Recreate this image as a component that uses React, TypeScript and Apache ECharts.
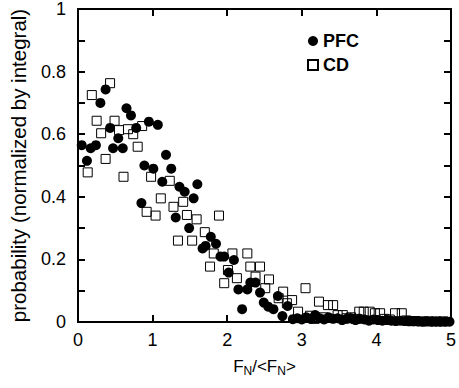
import React, { useEffect, useRef } from "react";
import * as echarts from "echarts";

const pfcX = [0.05, 0.12, 0.17, 0.24, 0.3, 0.37, 0.43, 0.47, 0.54, 0.6, 0.65, 0.71, 0.78, 0.85, 0.89, 0.95, 1.01, 1.07, 1.13, 1.18, 1.25, 1.31, 1.36, 1.43, 1.49, 1.55, 1.6, 1.67, 1.71, 1.78, 1.85, 1.91, 1.96, 2.02, 2.09, 2.15, 2.2, 2.27, 2.31, 2.38, 2.44, 2.49, 2.55, 2.62, 2.68, 2.74, 2.81, 2.88, 2.94, 3.0, 3.06, 3.12, 3.18, 3.24, 3.3, 3.36, 3.42, 3.48, 3.54, 3.6, 3.66, 3.72, 3.78, 3.84, 3.9, 3.96, 4.02, 4.08, 4.14, 4.2, 4.26, 4.32, 4.38, 4.44, 4.5, 4.56, 4.62, 4.68, 4.74, 4.8, 4.86, 4.92, 4.98];
const pfcY = [0.565, 0.515, 0.555, 0.565, 0.7, 0.743, 0.62, 0.555, 0.587, 0.555, 0.683, 0.66, 0.62, 0.38, 0.5, 0.64, 0.49, 0.63, 0.448, 0.534, 0.49, 0.334, 0.432, 0.416, 0.3, 0.395, 0.44, 0.235, 0.243, 0.272, 0.25, 0.209, 0.209, 0.158, 0.198, 0.104, 0.041, 0.104, 0.126, 0.126, 0.094, 0.062, 0.049, 0.041, 0.083, 0.019, 0.051, 0.009, 0.012, 0.008, 0.015, 0.01, 0.022, 0.012, 0.008, 0.015, 0.01, 0.012, 0.006, 0.01, 0.012, 0.006, 0.01, 0.008, 0.004, 0.008, 0.006, 0.004, 0.006, 0.004, 0.003, 0.004, 0.003, 0.002, 0.002, 0.002, 0.001, 0.002, 0.001, 0.001, 0.001, 0.001, 0.001];

const cdX = [0.13, 0.185, 0.25, 0.31, 0.37, 0.43, 0.49, 0.55, 0.61, 0.67, 0.74, 0.8, 0.86, 0.92, 0.98, 1.04, 1.11, 1.23, 1.28, 1.34, 1.41, 1.46, 1.53, 1.59, 1.7, 1.77, 1.82, 1.89, 1.96, 2.01, 2.07, 2.13, 2.27, 2.31, 2.38, 2.44, 2.51, 2.56, 2.69, 2.75, 2.8, 2.87, 2.95, 3.05, 3.11, 3.17, 3.23, 3.29, 3.35, 3.42, 3.48, 3.55, 3.6, 3.66, 3.72, 3.77, 3.83, 3.91, 3.98, 4.05, 4.11, 4.18, 4.25, 4.34, 4.4, 4.46, 4.52, 4.6, 4.7, 4.8, 4.9];
const cdY = [0.478, 0.725, 0.643, 0.603, 0.521, 0.763, 0.643, 0.613, 0.464, 0.616, 0.6, 0.56, 0.626, 0.352, 0.464, 0.34, 0.395, 0.451, 0.368, 0.26, 0.384, 0.342, 0.26, 0.328, 0.287, 0.177, 0.219, 0.34, 0.124, 0.166, 0.219, 0.14, 0.219, 0.177, 0.145, 0.177, 0.108, 0.136, 0.076, 0.097, 0.06, 0.07, 0.033, 0.108, 0.02, 0.01, 0.065, 0.015, 0.054, 0.054, 0.022, 0.022, 0.012, 0.015, 0.01, 0.033, 0.033, 0.033, 0.028, 0.028, 0.01, 0.008, 0.028, 0.028, 0.005, 0.003, 0.003, 0.002, 0.002, 0.002, 0.002];

const xTicks = [0, 1, 2, 3, 4, 5];
const yTicks = [0, 0.2, 0.4, 0.6, 0.8, 1];

const FONT = "'Liberation Sans', Arial, Helvetica, sans-serif";

const mkLine = () => ({ show: true, onZero: false, lineStyle: { color: "#000", width: 2 } });
const mkTick = () => ({ show: true, inside: true, length: 7, lineStyle: { color: "#000", width: 2 } });
const mkMinor = () => ({ show: true, splitNumber: 2, length: 7, lineStyle: { color: "#000", width: 2 } });

export default function App() {
  const ref = useRef<HTMLDivElement>(null);
  useEffect(() => {
    if (!ref.current) return;
    const chart = echarts.init(ref.current, undefined, { renderer: "svg" });
    const pfc = pfcX.map((x, i) => [x, pfcY[i]]);
    const cd = cdX.map((x, i) => [x, cdY[i]]);
    chart.setOption({
      animation: false,
      grid: { left: 77, right: 4, top: 8, bottom: 66, containLabel: false },
      legend: {
        orient: "vertical",
        left: 302,
        top: 27,
        itemWidth: 10,
        itemHeight: 10,
        itemGap: 6,
        data: ["PFC", "CD"],
        textStyle: { fontFamily: FONT, fontSize: 18, fontWeight: "bold", color: "#000" },
      },
      xAxis: [
        {
          type: "value",
          position: "bottom",
          min: xTicks[0],
          max: xTicks[xTicks.length - 1],
          interval: 1,
          axisLine: mkLine(),
          axisTick: mkTick(),
          splitLine: { show: false },
          axisLabel: { fontSize: 18, color: "#000", margin: 9, fontFamily: FONT },
          name: "{a|F}{b|N}{a|/<F}{b|N}{a|>}",
          nameLocation: "middle",
          nameGap: 33,
          nameTextStyle: {
            rich: {
              a: { fontSize: 17, color: "#000", fontFamily: FONT, lineHeight: 22 },
              b: { fontSize: 12, color: "#000", fontFamily: FONT, padding: [9, 0, 0, 0] },
            },
          },
        },
        {
          type: "value",
          position: "top",
          min: xTicks[0],
          max: xTicks[xTicks.length - 1],
          interval: 1,
          axisLine: mkLine(),
          axisTick: mkTick(),
          axisLabel: { show: false },
          splitLine: { show: false },
        },
      ],
      yAxis: [
        {
          type: "value",
          position: "left",
          min: yTicks[0],
          max: yTicks[yTicks.length - 1],
          interval: 0.2,
          axisLine: mkLine(),
          axisTick: mkTick(),
          minorTick: mkMinor(),
          splitLine: { show: false },
          axisLabel: { fontSize: 18, color: "#000", margin: 12, fontFamily: FONT },
          name: "probability (normalized by integral)",
          nameLocation: "middle",
          nameGap: 49,
          nameTextStyle: { fontSize: 20.5, color: "#000", fontFamily: FONT },
        },
        {
          type: "value",
          position: "right",
          min: yTicks[0],
          max: yTicks[yTicks.length - 1],
          interval: 0.2,
          axisLine: mkLine(),
          axisTick: mkTick(),
          minorTick: mkMinor(),
          axisLabel: { show: false },
          splitLine: { show: false },
        },
      ],
      series: [
        {
          name: "CD",
          type: "scatter",
          symbol: "rect",
          symbolSize: 9,
          data: cd,
          itemStyle: { color: "rgba(255,255,255,0)", borderColor: "#000", borderWidth: 1, opacity: 1 },
          z: 2,
        },
        {
          name: "PFC",
          type: "scatter",
          symbol: "circle",
          symbolSize: 10,
          data: pfc,
          itemStyle: { color: "#000", opacity: 1 },
          z: 3,
        },
      ],
    });
    return () => chart.dispose();
  }, []);
  return <div ref={ref} style={{ width: 459, height: 388, position: "absolute", left: 0, top: 0, background: "#fff" }} />;
}
